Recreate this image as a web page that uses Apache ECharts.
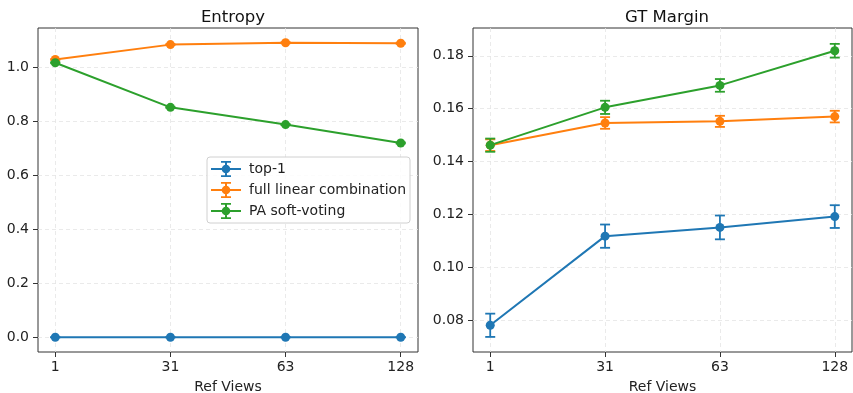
<!DOCTYPE html>
<html><head><meta charset="utf-8">
<script src="https://cdn.jsdelivr.net/npm/echarts@6/dist/echarts.min.js"></script>
<style>html,body{margin:0;padding:0;background:#fff}#c{width:853px;height:393px}</style>
</head><body><div id="c"></div>
<script>
const refViews = ['1', '31', '63', '128'];
const seriesNames = ['top-1', 'full linear combination', 'PA soft-voting'];
const colors = ['#1f77b4', '#ff7f0e', '#2ca02c'];

const entropyTop1 = [0, 0, 0, 0];
const entropyTop1Err = [0, 0, 0, 0];
const entropyFull = [1.028, 1.083, 1.090, 1.088];
const entropyFullErr = [0.002, 0.002, 0.002, 0.002];
const entropyPA = [1.016, 0.851, 0.787, 0.719];
const entropyPAErr = [0.002, 0.002, 0.002, 0.002];

const marginTop1 = [0.0781, 0.1118, 0.1151, 0.1192];
const marginTop1Err = [0.0044, 0.0044, 0.0045, 0.0043];
const marginFull = [0.1462, 0.1546, 0.1552, 0.1570];
const marginFullErr = [0.0022, 0.0022, 0.0021, 0.0022];
const marginPA = [0.1462, 0.1605, 0.1688, 0.1819];
const marginPAErr = [0.0025, 0.0025, 0.0024, 0.0026];

const entropyTicks = [0, 0.2, 0.4, 0.6, 0.8, 1.0];
const marginTicks = [0.08, 0.10, 0.12, 0.14, 0.16, 0.18];

const FONT = 'DejaVu Sans';
const legendIcon = 'path://M0,7 h30 v2 h-30 Z M14,0 h2 v16 h-2 Z M10,0 h10 v1.8 h-10 Z M10,14.2 h10 v1.8 h-10 Z M19.3,8 A4.3,4.3 0 1,1 10.7,8 A4.3,4.3 0 1,1 19.3,8 Z';

function xAxis(gi) {
  return {
    type: 'value', gridIndex: gi, min: -0.15, max: 3.15,
    name: 'Ref Views', nameLocation: 'middle', nameGap: 28,
    nameTextStyle: {fontFamily: FONT, fontSize: 14, color: '#222'},
    axisLine: {show: false, onZero: false},
    axisTick: {show: true, customValues: [0, 1, 2, 3], length: 5, lineStyle: {color: '#333'}},
    axisLabel: {customValues: [0, 1, 2, 3], formatter: v => refViews[Math.round(v)], fontFamily: FONT, fontSize: 14, color: '#222', margin: 8},
    splitLine: {show: true, lineStyle: {color: '#e4e4e4', type: [4, 3], width: 0.8}}
  };
}
function yAxis(gi, min, max, ticks, fmt) {
  return {
    type: 'value', gridIndex: gi, min: min, max: max,
    axisLine: {show: false, onZero: false},
    axisTick: {show: true, customValues: ticks, length: 5, lineStyle: {color: '#333'}},
    axisLabel: {customValues: ticks, formatter: v => v.toFixed(fmt), fontFamily: FONT, fontSize: 14, color: '#222', margin: 9},
    splitLine: {show: true, lineStyle: {color: '#e4e4e4', type: [4, 3], width: 0.8}}
  };
}

function lineSeries(name, gi, vals, color, z) {
  return {
    name: name, type: 'line', xAxisIndex: gi, yAxisIndex: gi,
    data: vals.map((v, i) => [i, v]),
    symbol: 'circle', symbolSize: 9, showSymbol: true,
    lineStyle: {color: color, width: 2},
    itemStyle: {color: color},
    z: z, animation: false, silent: true
  };
}
function errSeries(name, gi, vals, errs, color, z) {
  return {
    name: name, type: 'custom', xAxisIndex: gi, yAxisIndex: gi,
    itemStyle: {color: color},
    data: vals.map((v, i) => [i, v, errs[i]]),
    renderItem: function (params, api) {
      const x = api.value(0), y = api.value(1), e = api.value(2);
      const top = api.coord([x, y + e]);
      const bot = api.coord([x, y - e]);
      const st = {stroke: color, lineWidth: 1.8};
      return {type: 'group', children: [
        {type: 'line', shape: {x1: top[0], y1: top[1], x2: bot[0], y2: bot[1]}, style: st},
        {type: 'line', shape: {x1: top[0] - 5, y1: top[1], x2: top[0] + 5, y2: top[1]}, style: st},
        {type: 'line', shape: {x1: bot[0] - 5, y1: bot[1], x2: bot[0] + 5, y2: bot[1]}, style: st}
      ]};
    },
    z: z, animation: false, silent: true
  };
}

const chart = echarts.init(document.getElementById('c'), null, {renderer: 'canvas'});
const entropyData = [[entropyTop1, entropyTop1Err], [entropyFull, entropyFullErr], [entropyPA, entropyPAErr]];
const marginData = [[marginTop1, marginTop1Err], [marginFull, marginFullErr], [marginPA, marginPAErr]];
const series = [];
[entropyData, marginData].forEach((set, gi) => {
  set.forEach((d, k) => {
    series.push(lineSeries(seriesNames[k], gi, d[0], colors[k], 2 + k));
    series.push(errSeries(seriesNames[k], gi, d[0], d[1], colors[k], 2 + k));
  });
});

chart.setOption({
  animation: false,
  backgroundColor: '#fff',
  color: colors,
  title: [
    {text: 'Entropy', left: 228, top: 4, textAlign: 'center', textStyle: {fontFamily: FONT, fontSize: 16.5, fontWeight: 'normal', color: '#111'}},
    {text: 'GT Margin', left: 662, top: 4, textAlign: 'center', textStyle: {fontFamily: FONT, fontSize: 16.5, fontWeight: 'normal', color: '#111'}}
  ],
  grid: [
    {left: 38, top: 28, width: 380, height: 324, outerBoundsMode: 'none', containLabel: false, show: true, borderColor: '#333', borderWidth: 1, backgroundColor: 'transparent'},
    {left: 473, top: 28, width: 379, height: 324, outerBoundsMode: 'none', containLabel: false, show: true, borderColor: '#333', borderWidth: 1, backgroundColor: 'transparent'}
  ],
  legend: {
    data: seriesNames.map(n => ({name: n, icon: legendIcon})),
    orient: 'vertical', left: 207, top: 157, itemWidth: 30, itemHeight: 16, itemGap: 5,
    padding: [4, 4, 4, 4],
    backgroundColor: 'rgba(255,255,255,0.85)', borderColor: '#d0d0d0', borderWidth: 1, borderRadius: 3,
    textStyle: {fontFamily: FONT, fontSize: 14, color: '#222', padding: [0, 0, 0, 3]},
    selectedMode: false
  },
  xAxis: [xAxis(0), xAxis(1)],
  yAxis: [yAxis(0, -0.0545, 1.1445, entropyTicks, 1), yAxis(1, 0.068, 0.1905, marginTicks, 2)],
  series: series
});
</script></body></html>
